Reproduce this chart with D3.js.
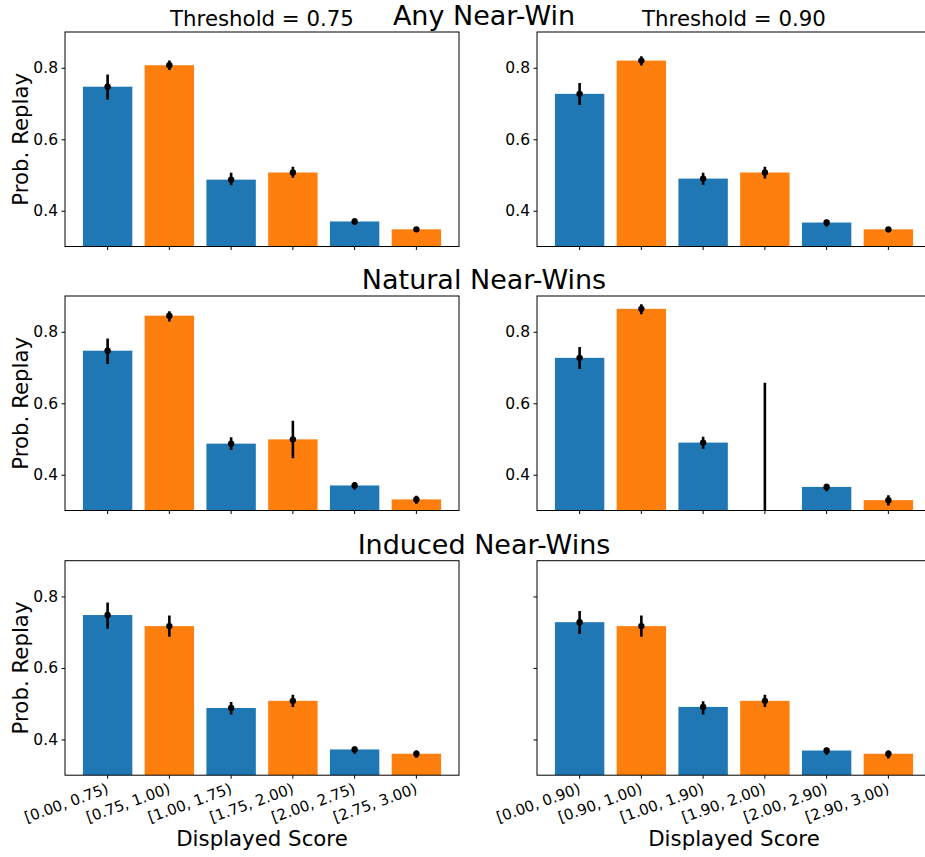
<!DOCTYPE html>
<html>
<head>
<meta charset="utf-8">
<script src="https://cdn.jsdelivr.net/npm/d3@7"></script>
<style>
  body { margin: 0; background: #fff; }
  text { font-family: "DejaVu Sans", sans-serif; fill: #000; }
</style>
</head>
<body>
<script>
// categories (x tick labels)
const cats75 = ["[0.00, 0.75)", "[0.75, 1.00)", "[1.00, 1.75)", "[1.75, 2.00)", "[2.00, 2.75)", "[2.75, 3.00)"];
const cats90 = ["[0.00, 0.90)", "[0.90, 1.00)", "[1.00, 1.90)", "[1.90, 2.00)", "[2.00, 2.90)", "[2.90, 3.00)"];

// Any Near-Win
const anyVals75 = [0.747, 0.807, 0.487, 0.507, 0.370, 0.348];
const anyLo75   = [0.711, 0.794, 0.471, 0.492, 0.360, 0.341];
const anyHi75   = [0.781, 0.820, 0.506, 0.523, 0.379, 0.353];
const anyVals90 = [0.727, 0.820, 0.490, 0.507, 0.367, 0.348];
const anyLo90   = [0.696, 0.806, 0.473, 0.490, 0.356, 0.340];
const anyHi90   = [0.757, 0.832, 0.506, 0.523, 0.375, 0.353];

// Natural Near-Wins
const natVals75 = [0.747, 0.845, 0.487, 0.499, 0.370, 0.331];
const natLo75   = [0.710, 0.829, 0.469, 0.446, 0.359, 0.319];
const natHi75   = [0.781, 0.857, 0.505, 0.551, 0.380, 0.341];
const natVals90 = [0.727, 0.864, 0.490, 0.250, 0.366, 0.329];
const natLo90   = [0.696, 0.849, 0.473, 0.000, 0.354, 0.314];
const natHi90   = [0.757, 0.877, 0.506, 0.657, 0.375, 0.343];

// Induced Near-Wins
const indVals75 = [0.748, 0.717, 0.488, 0.508, 0.372, 0.360];
const indLo75   = [0.710, 0.687, 0.470, 0.491, 0.360, 0.349];
const indHi75   = [0.783, 0.747, 0.505, 0.525, 0.380, 0.369];
const indVals90 = [0.728, 0.717, 0.491, 0.508, 0.369, 0.360];
const indLo90   = [0.695, 0.687, 0.470, 0.491, 0.357, 0.347];
const indHi90   = [0.759, 0.747, 0.507, 0.525, 0.377, 0.369];

const yTicks = [0.4, 0.6, 0.8];
const colors = ["#1f77b4", "#ff7f0e"];
const rowTitles = ["Any Near-Win", "Natural Near-Wins", "Induced Near-Wins"];
const colTitles = ["Threshold = 0.75", "Threshold = 0.90"];

const W = 925, H = 857;
const colX = [65, 537], rowY = [32, 296, 560.7];
const pw = 394, ph = 214.5;

const svg = d3.select("body").append("svg")
  .attr("width", W).attr("height", H);

const panels = [
  {r: 0, c: 0, cats: cats75, v: anyVals75, lo: anyLo75, hi: anyHi75},
  {r: 0, c: 1, cats: cats90, v: anyVals90, lo: anyLo90, hi: anyHi90},
  {r: 1, c: 0, cats: cats75, v: natVals75, lo: natLo75, hi: natHi75},
  {r: 1, c: 1, cats: cats90, v: natVals90, lo: natLo90, hi: natHi90},
  {r: 2, c: 0, cats: cats75, v: indVals75, lo: indLo75, hi: indHi75},
  {r: 2, c: 1, cats: cats90, v: indVals90, lo: indLo90, hi: indHi90}
];

panels.forEach((p, i) => {
  const g = svg.append("g")
    .attr("transform", "translate(" + colX[p.c] + "," + rowY[p.r] + ")");

  const x = d3.scaleBand()
    .domain(p.cats)
    .range([0, pw])
    .paddingInner(0.2)
    .paddingOuter(0.29);

  const y = d3.scaleLinear()
    .domain([0.3, 0.9])
    .range([ph, 0]);

  g.append("clipPath").attr("id", "clip" + i)
    .append("rect").attr("width", pw).attr("height", ph);

  const plot = g.append("g").attr("clip-path", "url(#clip" + i + ")");
  const rows = p.cats.map((c, k) => ({c: c, v: p.v[k], lo: p.lo[k], hi: p.hi[k], k: k}));

  plot.selectAll("rect.bar")
    .data(rows)
    .enter()
    .append("rect")
    .attr("class", "bar")
    .attr("x", d => x(d.c))
    .attr("width", x.bandwidth())
    .attr("y", d => Math.min(y(d.v), ph))
    .attr("height", d => Math.max(0, ph - y(d.v)))
    .style("fill", d => colors[d.k % 2]);

  plot.selectAll("line.err")
    .data(rows)
    .enter()
    .append("line")
    .attr("x1", d => x(d.c) + x.bandwidth() / 2)
    .attr("x2", d => x(d.c) + x.bandwidth() / 2)
    .attr("y1", d => y(d.lo))
    .attr("y2", d => y(d.hi))
    .style("stroke", "#000")
    .style("stroke-width", 2.6);

  plot.selectAll("circle")
    .data(rows)
    .enter()
    .append("circle")
    .attr("cx", d => x(d.c) + x.bandwidth() / 2)
    .attr("cy", d => y(d.v))
    .attr("r", 3.2)
    .style("fill", "#000");

  // axes
  const yAxis = d3.axisLeft(y).tickValues(yTicks).tickSize(3.5).tickPadding(3.5)
    .tickFormat(p.r === 2 && p.c === 1 ? "" : d3.format(".1f"));
  const ya = g.append("g").call(yAxis);

  const xAxis = d3.axisBottom(x).tickSize(3.5).tickFormat("");
  const xa = g.append("g").attr("transform", "translate(0," + ph + ")").call(xAxis);

  [ya, xa].forEach(a => {
    a.select(".domain").remove();
    a.selectAll("line").style("stroke", "#000").style("stroke-width", 1);
    a.selectAll("text").style("font-size", "15.5px").style("font-family", "DejaVu Sans");
  });

  if (p.r === 2) {
    xa.selectAll(".tick")
      .append("text")
      .attr("transform", "translate(-2,7) rotate(-20)")
      .attr("text-anchor", "end")
      .attr("dominant-baseline", "hanging")
      .style("font-size", "15px")
      .text(d => d);

    g.append("text")
      .attr("x", pw / 2)
      .attr("y", ph + 71)
      .attr("text-anchor", "middle")
      .style("font-size", "21.3px")
      .text("Displayed Score");
  }

  if (p.c === 0) {
    g.append("text")
      .attr("transform", "translate(-37," + (ph / 2) + ") rotate(-90)")
      .attr("text-anchor", "middle")
      .style("font-size", "21.3px")
      .text("Prob. Replay");
  }

  // spines
  g.append("rect")
    .attr("width", pw).attr("height", ph)
    .style("fill", "none")
    .style("stroke", "#000")
    .style("stroke-width", 1);

  if (p.r === 0) {
    g.append("text")
      .attr("x", pw / 2)
      .attr("y", -6)
      .attr("text-anchor", "middle")
      .style("font-size", "21.3px")
      .text(colTitles[p.c]);
  }
});

rowTitles.forEach((t, r) => {
  svg.append("text")
    .attr("x", 484)
    .attr("y", rowY[r] - 7)
    .attr("text-anchor", "middle")
    .style("font-size", "27px")
    .text(t);
});
</script>
</body>
</html>
